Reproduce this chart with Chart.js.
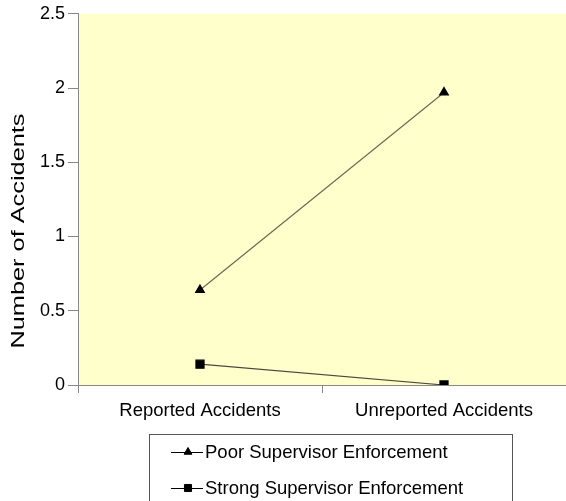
<!DOCTYPE html>
<html>
<head>
<meta charset="utf-8">
<script src="https://cdn.jsdelivr.net/npm/chart.js@4"></script>
<style>
  html, body { margin: 0; padding: 0; background: #fff; }
  #wrap { width: 566px; height: 501px; }
</style>
</head>
<body>
<div id="wrap"><canvas id="chart" width="566" height="501"></canvas></div>
<script>
// categories and series
const aCategories = ["Reported Accidents", "Unreported Accidents"];
const aPoor = [0.64, 1.97];
const aStrong = [0.14, 0.0];
const aSeriesNames = ["Poor Supervisor Enforcement", "Strong Supervisor Enforcement"];
const aYTicks = [0, 0.5, 1, 1.5, 2, 2.5];
const sYTitle = "Number of Accidents";

const sFont = "'Liberation Sans', Arial, sans-serif";

// plot background
const plotBg = {
  id: "plotBg",
  beforeDraw: function (chart) {
    const a = chart.chartArea;
    const ctx = chart.ctx;
    ctx.save();
    ctx.fillStyle = "#FFFFCC";
    ctx.fillRect(a.left, a.top, a.right - a.left, a.bottom - a.top);
    ctx.restore();
  }
};

// y title, stretched along its length like the original picture
const yTitle = {
  id: "yTitle",
  afterDraw: function (chart) {
    const ctx = chart.ctx;
    ctx.save();
    ctx.font = "18px " + sFont;
    const w = ctx.measureText(sYTitle).width;
    ctx.translate(19, 231);
    ctx.rotate(-Math.PI / 2);
    ctx.scale(235 / w, 1);
    ctx.fillStyle = "#000";
    ctx.textAlign = "center";
    ctx.textBaseline = "middle";
    ctx.fillText(sYTitle, 0, 0);
    ctx.restore();
  }
};

// boxed legend under the axis, line + marker like the original
const boxLegend = {
  id: "boxLegend",
  afterDraw: function (chart) {
    const ctx = chart.ctx;
    ctx.save();
    ctx.strokeStyle = "#555";
    ctx.lineWidth = 1;
    ctx.strokeRect(149.5, 434.5, 363, 80);
    ctx.font = "18.5px " + sFont;
    ctx.textBaseline = "middle";
    chart.data.datasets.forEach(function (ds, i) {
      const y = 452 + i * 36;
      ctx.strokeStyle = "#000";
      ctx.lineWidth = 1;
      ctx.beginPath();
      ctx.moveTo(171, y + 0.5);
      ctx.lineTo(203, y + 0.5);
      ctx.stroke();
      ctx.fillStyle = "#000";
      Chart.helpers.drawPoint(ctx, {
        pointStyle: ds.pointStyle,
        radius: ds.pointStyle === "rect" ? 5 : 4.5,
        borderWidth: 1
      }, 188, y);
      ctx.fillStyle = "#000";
      ctx.fillText(ds.label, 205, y + 1);
    });
    ctx.restore();
  }
};

new Chart(document.getElementById("chart").getContext("2d"), {
  type: "line",
  plugins: [plotBg, yTitle, boxLegend],
  data: {
    labels: aCategories,
    datasets: [
      {
        label: aSeriesNames[0],
        data: aPoor,
        borderColor: "#6b6b55",
        borderWidth: 1.2,
        pointStyle: "triangle",
        pointRadius: 5,
        pointBackgroundColor: "#000",
        pointBorderColor: "#000",
        fill: false,
        tension: 0
      },
      {
        label: aSeriesNames[1],
        data: aStrong,
        borderColor: "#4a4a40",
        borderWidth: 1.2,
        pointStyle: "rect",
        pointRadius: 5.7,
        pointBackgroundColor: "#000",
        pointBorderColor: "#000",
        fill: false,
        tension: 0
      }
    ]
  },
  options: {
    responsive: false,
    animation: false,
    layout: { autoPadding: false, padding: { top: 9, right: 0, left: 0, bottom: 0 } },
    plugins: {
      legend: { display: false },
      tooltip: { enabled: false }
    },
    scales: {
      x: {
        offset: true,
        grid: { offset: true, drawOnChartArea: false, tickLength: 8, color: "#888" },
        border: { color: "#888" },
        ticks: { color: "#000", font: { size: 18.5, family: sFont }, padding: 7 },
        afterFit: function (scale) { scale.height = 116; }
      },
      y: {
        min: 0,
        max: 2.5,
        afterBuildTicks: function (scale) {
          scale.ticks = aYTicks.map(function (v) { return { value: v }; });
        },
        grid: { drawOnChartArea: false, tickLength: 10, color: "#888" },
        border: { color: "#888" },
        ticks: {
          color: "#000",
          font: { size: 18, family: sFont },
          padding: 3,
          callback: function (value) { return String(value); }
        },
        afterFit: function (scale) { scale.width = 78; }
      }
    }
  }
});
</script>
</body>
</html>
